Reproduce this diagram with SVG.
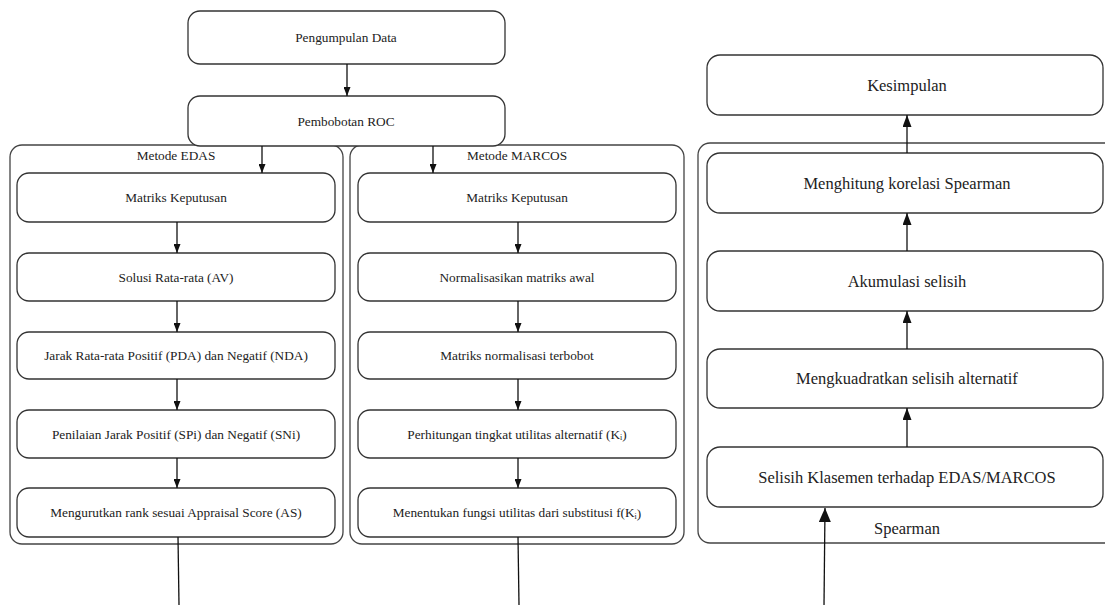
<svg xmlns="http://www.w3.org/2000/svg" width="1105" height="605" viewBox="0 0 1105 605">
<style>
.box{fill:#fff;stroke:#333;stroke-width:1.3}
.grp{fill:none;stroke:#444;stroke-width:1.3}
.t{font-family:"Liberation Serif","Times New Roman",serif;font-size:13.3px;fill:#222;text-anchor:middle;dominant-baseline:central}
.tb{font-family:"Liberation Serif","Times New Roman",serif;font-size:16.5px;fill:#222;text-anchor:middle;dominant-baseline:central}
.c{stroke:#111;stroke-width:1.3;fill:none}
</style>
<defs>
<marker id="ah" viewBox="0 0 9 7" refX="9" refY="3.5" markerWidth="9" markerHeight="7" markerUnits="userSpaceOnUse" orient="auto"><path d="M0,0 L9,3.5 L0,7 Z" fill="#111"/></marker>
<marker id="ahR" viewBox="0 0 12 9" refX="12" refY="4.5" markerWidth="12" markerHeight="9" markerUnits="userSpaceOnUse" orient="auto"><path d="M0,0 L12,4.5 L0,9 Z" fill="#111"/></marker>
<marker id="ahL" viewBox="0 0 14 12" refX="14" refY="6" markerWidth="14" markerHeight="12" markerUnits="userSpaceOnUse" orient="auto"><path d="M0,0 L14,6 L0,12 Z" fill="#111"/></marker>
</defs>
<rect width="1105" height="605" fill="#fff"/>
<g id="group-edas">
<rect class="grp" x="10" y="145" width="333" height="399" rx="12"/>
<text class="t" x="176" y="155">Metode EDAS</text>
</g>
<g id="group-marcos">
<rect class="grp" x="350" y="145" width="334" height="399" rx="12"/>
<text class="t" x="517" y="155">Metode MARCOS</text>
</g>
<g id="group-spearman">
<rect class="grp" x="698" y="143" width="420" height="400" rx="12"/>
<text class="tb" x="907" y="528">Spearman</text>
</g>
<g id="n-pengumpulan"><rect class="box" x="188" y="11" width="317" height="53" rx="12"/><text class="t" x="346" y="37.5">Pengumpulan Data</text></g>
<g id="n-roc"><rect class="box" x="188" y="96" width="317" height="50" rx="12"/><text class="t" x="346" y="121">Pembobotan ROC</text></g>
<g id="n-e1"><rect class="box" x="17" y="173" width="318" height="49" rx="12"/><text class="t" x="176" y="197.5">Matriks Keputusan</text></g>
<g id="n-e2"><rect class="box" x="17" y="253" width="318" height="48" rx="12"/><text class="t" x="176" y="277">Solusi Rata-rata (AV)</text></g>
<g id="n-e3"><rect class="box" x="17" y="332" width="318" height="47" rx="12"/><text class="t" x="176" y="355.5">Jarak Rata-rata Positif (PDA) dan Negatif (NDA)</text></g>
<g id="n-e4"><rect class="box" x="17" y="410" width="318" height="48" rx="12"/><text class="t" x="176" y="434">Penilaian Jarak Positif (SPi) dan Negatif (SNi)</text></g>
<g id="n-e5"><rect class="box" x="17" y="488" width="318" height="49" rx="12"/><text class="t" x="176" y="512.5">Mengurutkan rank sesuai Appraisal Score (AS)</text></g>
<g id="n-m1"><rect class="box" x="358" y="173" width="318" height="49" rx="12"/><text class="t" x="517" y="197.5">Matriks Keputusan</text></g>
<g id="n-m2"><rect class="box" x="358" y="253" width="318" height="48" rx="12"/><text class="t" x="517" y="277">Normalisasikan matriks awal</text></g>
<g id="n-m3"><rect class="box" x="358" y="332" width="318" height="47" rx="12"/><text class="t" x="517" y="355.5">Matriks normalisasi terbobot</text></g>
<g id="n-m4"><rect class="box" x="358" y="410" width="318" height="48" rx="12"/><text class="t" x="517" y="434">Perhitungan tingkat utilitas alternatif (K<tspan font-size="8" dy="3">i</tspan><tspan dy="-3">)</tspan></text></g>
<g id="n-m5"><rect class="box" x="358" y="488" width="318" height="49" rx="12"/><text class="t" x="517" y="512.5">Menentukan fungsi utilitas dari substitusi f(K<tspan font-size="8" dy="3">i</tspan><tspan dy="-3">)</tspan></text></g>
<g id="n-kesimpulan"><rect class="box" x="707" y="55" width="396" height="60" rx="13"/><text class="tb" x="907" y="85">Kesimpulan</text></g>
<g id="n-s4"><rect class="box" x="707" y="153" width="396" height="60" rx="13"/><text class="tb" x="907" y="183">Menghitung korelasi Spearman</text></g>
<g id="n-s3"><rect class="box" x="707" y="251" width="396" height="60" rx="13"/><text class="tb" x="907" y="281">Akumulasi selisih</text></g>
<g id="n-s2"><rect class="box" x="707" y="349" width="396" height="59" rx="13"/><text class="tb" x="907" y="378.5">Mengkuadratkan selisih alternatif</text></g>
<g id="n-s1"><rect class="box" x="707" y="447" width="396" height="60" rx="13"/><text class="tb" x="907" y="477">Selisih Klasemen terhadap EDAS/MARCOS</text></g>
<g id="connectors">
<line class="c" x1="347" y1="64" x2="347" y2="96" marker-end="url(#ah)"/>
<line class="c" x1="262" y1="146" x2="262" y2="173" marker-end="url(#ah)"/>
<line class="c" x1="433" y1="146" x2="433" y2="173" marker-end="url(#ah)"/>
<line class="c" x1="177" y1="222" x2="177" y2="253" marker-end="url(#ah)"/>
<line class="c" x1="177" y1="301" x2="177" y2="332" marker-end="url(#ah)"/>
<line class="c" x1="177" y1="379" x2="177" y2="410" marker-end="url(#ah)"/>
<line class="c" x1="177" y1="458" x2="177" y2="488" marker-end="url(#ah)"/>
<line class="c" x1="518" y1="222" x2="518" y2="253" marker-end="url(#ah)"/>
<line class="c" x1="518" y1="301" x2="518" y2="332" marker-end="url(#ah)"/>
<line class="c" x1="518" y1="379" x2="518" y2="410" marker-end="url(#ah)"/>
<line class="c" x1="518" y1="458" x2="518" y2="488" marker-end="url(#ah)"/>
<line class="c" x1="907" y1="153" x2="907" y2="115" marker-end="url(#ahR)"/>
<line class="c" x1="907" y1="251" x2="907" y2="213" marker-end="url(#ahR)"/>
<line class="c" x1="907" y1="349" x2="907" y2="311" marker-end="url(#ahR)"/>
<line class="c" x1="907" y1="447" x2="907" y2="408" marker-end="url(#ahR)"/>
<line class="c" x1="178" y1="537" x2="179" y2="605"/>
<line class="c" x1="518" y1="537" x2="519" y2="605"/>
<line class="c" x1="824" y1="605" x2="825" y2="508" marker-end="url(#ahL)"/>
</g>
</svg>
